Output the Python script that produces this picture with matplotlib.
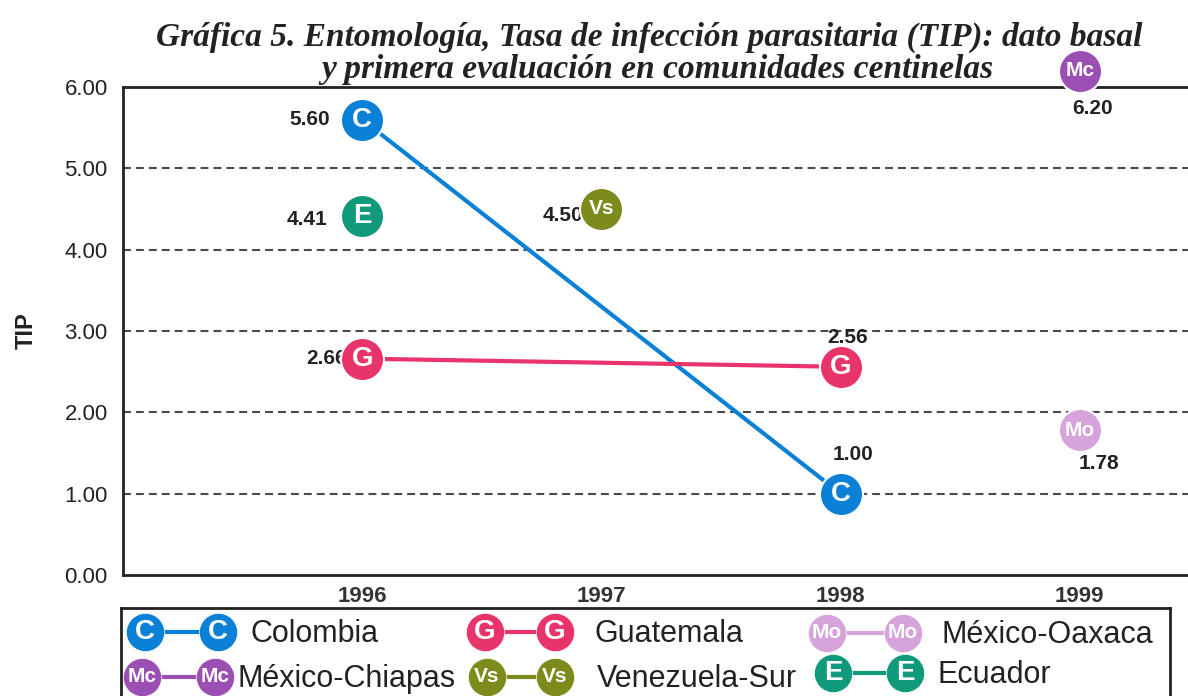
import matplotlib
matplotlib.use("Agg")
import matplotlib.pyplot as plt

# TIP values (year -> value), one short list per community
colombia_years = [1996, 1998]
colombia_tip = [5.60, 1.00]
guatemala_years = [1996, 1998]
guatemala_tip = [2.66, 2.56]
ecuador_years = [1996]
ecuador_tip = [4.41]
venezuela_years = [1997]
venezuela_tip = [4.50]
oaxaca_years = [1999]
oaxaca_tip = [1.78]
chiapas_years = [1999]
chiapas_tip = [6.20]

year_ticks = [1996, 1997, 1998, 1999]
tip_ticks = [0, 1, 2, 3, 4, 5, 6]

SANS = ["Liberation Sans", "DejaVu Sans"]
NARROW = ["Liberation Sans Narrow", "Liberation Sans", "DejaVu Sans"]
SERIF = ["Liberation Serif", "DejaVu Serif"]

# name, code, colour, years, values, value-label offsets (pt) + ha
series = [
    ("Colombia", "C", "#0a80d6", colombia_years, colombia_tip,
     [(-23, 0, "right"), (9, 28, "center")]),
    ("Guatemala", "G", "#e8336b", guatemala_years, guatemala_tip,
     [(-11, 0, "right"), (5, 21, "center")]),
    ("México-Oaxaca", "Mo", "#d6a3db", oaxaca_years, oaxaca_tip,
     [(14, -24, "center")]),
    ("México-Chiapas", "Mc", "#9c4fb3", chiapas_years, chiapas_tip,
     [(9, -27, "center")]),
    ("Venezuela-Sur", "Vs", "#7d8a1c", venezuela_years, venezuela_tip,
     [(-13, -5, "right")]),
    ("Ecuador", "E", "#10997a", ecuador_years, ecuador_tip,
     [(-25, -2, "right")]),
]

W, H = 1188, 696
fig = plt.figure(figsize=(W / 100, H / 100), dpi=100)
fig.patch.set_facecolor("white")

# main axes; 1995..2000 category frame, its right part runs off the page
ax = fig.add_axes([123 / W, (H - 575) / H, 1196 / W, (575 - 87) / H])
ax.set_xlim(1995, 2000)
ax.set_ylim(0, 6)
for s in ("top", "left", "bottom"):
    ax.spines[s].set_linewidth(2)
    ax.spines[s].set_color("#222222")
ax.spines["right"].set_visible(False)

for yv in tip_ticks[1:-1]:
    ax.axhline(yv, color="#4a4a4a", lw=1.5, ls=(0, (3.8, 2.4)), zorder=1)

ax.set_yticks(tip_ticks)
ax.set_yticklabels([f"{v:.2f}" for v in tip_ticks], fontsize=16, family=SANS,
                   color="#222222")
ax.set_xticks(year_ticks)
ax.set_xticklabels([str(y) for y in year_ticks], fontsize=16, family=SANS,
                   fontweight="bold", color="#333333")
ax.tick_params(length=0, pad=11, axis="y")
ax.tick_params(length=0, pad=8, axis="x")
ax.set_ylabel("TIP", fontsize=17, fontweight="bold", family=SANS, color="#222222")
ax.yaxis.set_label_coords(-0.071, 0.5)

for name, code, color, xs, ys, labs in series:
    ax.plot(xs, ys, color=color, lw=3, zorder=3, clip_on=False)
    ax.plot(xs, ys, ls="none", marker="o", ms=31, mfc=color, mec="white",
            mew=1.5, zorder=5, clip_on=False)
    fs = 20 if len(code) == 1 else 15
    fam = SANS if len(code) == 1 else NARROW
    for x, y, (dx, dy, ha) in zip(xs, ys, labs):
        ax.text(x, y, code, color="white", fontsize=fs, fontweight="bold",
                family=fam, ha="center", va="center", zorder=6, clip_on=False)
        ax.annotate(f"{y:.2f}", (x, y), xytext=(dx, dy), textcoords="offset points",
                    ha=ha, va="center", fontsize=15, fontweight="bold",
                    family=SANS, color="#222222", zorder=4, annotation_clip=False)

title_kw = dict(ha="center", va="baseline", fontsize=24, fontweight="bold",
                style="italic", family=SERIF, color="#222222")
fig.text(649 / W, 1 - 46 / H,
         "Gráfica 5. Entomología, Tasa de infección parasitaria (TIP): dato basal",
         **title_kw)
fig.text(657 / W, 1 - 78 / H, "y primera evaluación en comunidades centinelas",
         **title_kw)

# hand-drawn legend box, bottom edge off the page
lg = fig.add_axes([121 / W, (H - 736) / H, (1170 - 121) / W, (736 - 608) / H])
lg.set_xlim(121, 1170)
lg.set_ylim(736, 608)
lg.set_xticks([])
lg.set_yticks([])
lg.patch.set_alpha(0)
for s in lg.spines.values():
    s.set_linewidth(2)
    s.set_color("#222222")

slots = [(145, 218, 250, 632), (485, 555, 595, 632), (827, 903, 942, 633),
         (142, 215, 238, 677), (487, 555, 597, 677), (833, 905, 937, 673)]
for (name, code, color, *_), (x1, x2, xt, yl) in zip(series, slots):
    lg.plot([x1, x2], [yl, yl], color=color, lw=3, zorder=2)
    lg.plot([x1, x2], [yl, yl], ls="none", marker="o", ms=27.5, mfc=color,
            mec="white", mew=0.5, zorder=3, clip_on=False)
    fs = 20 if len(code) == 1 else 15
    fam = SANS if len(code) == 1 else NARROW
    for xm in (x1, x2):
        lg.text(xm, yl, code, color="white", fontsize=fs, fontweight="bold",
                family=fam, ha="center", va="center", zorder=4, clip_on=False)
    lg.text(xt, yl + 2, name, fontsize=22, family=SANS, ha="left", va="center",
            color="#222222")

fig.savefig("out.png", dpi=100)
